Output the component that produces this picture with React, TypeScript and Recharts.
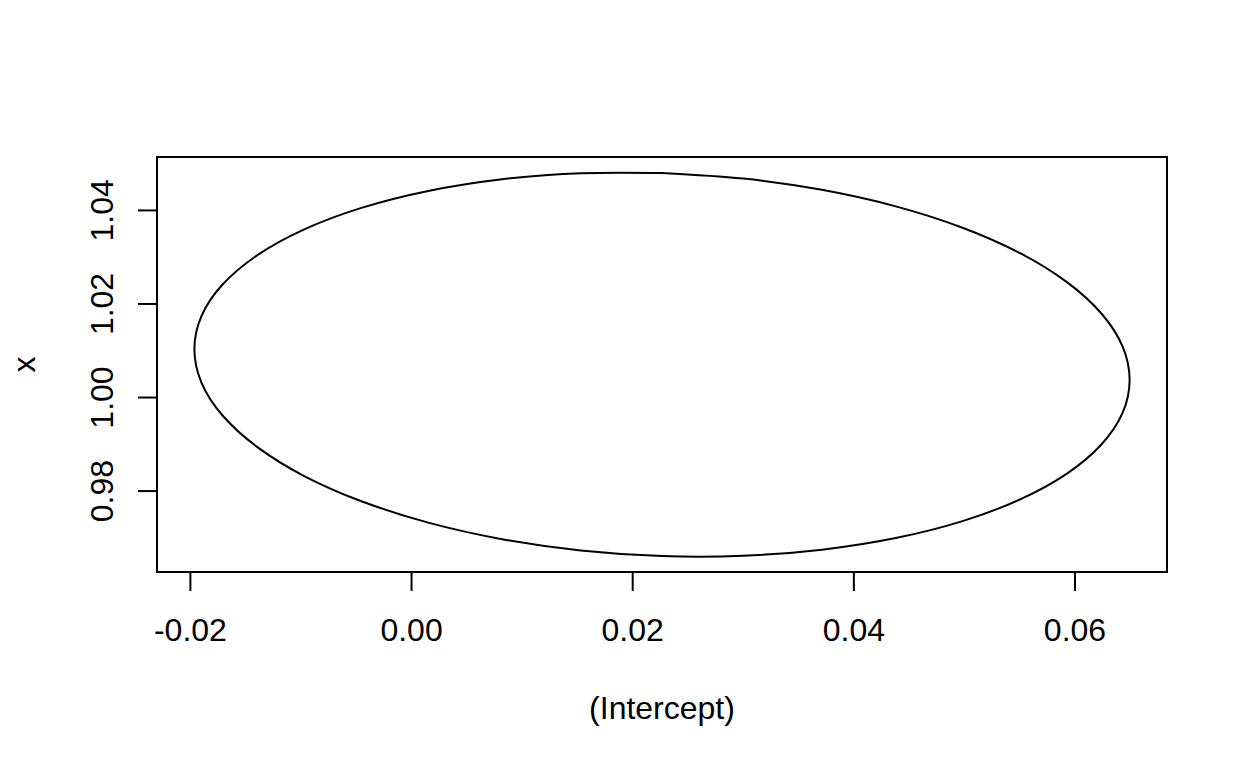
import { LineChart, Line, XAxis, YAxis, ReferenceArea } from 'recharts';

// points, going round from the top
const ellipseX = [
  0.02265, 0.01531, 0.00819, 0.00151, -0.00453, -0.00975, -0.01397, -0.01709, -0.019,
  -0.01964, -0.019, -0.01709, -0.01397, -0.00975, -0.00453, 0.00151, 0.00819, 0.01531,
  0.02265, 0.02999, 0.03711, 0.04379, 0.04983, 0.05504, 0.05927, 0.06239, 0.0643,
  0.06494, 0.0643, 0.06239, 0.05927, 0.05504, 0.04983, 0.04379, 0.03711, 0.02999,
];
const ellipseY = [
  1.048, 1.04795, 1.04666, 1.04416, 1.04054, 1.0359, 1.03039, 1.02416, 1.01742,
  1.01036, 1.0032, 0.99616, 0.98945, 0.98327, 0.97782, 0.97326, 0.96972, 0.96732,
  0.96612, 0.96617, 0.96747, 0.96996, 0.97358, 0.97822, 0.98374, 0.98996, 0.9967,
  1.00376, 1.01092, 1.01796, 1.02467, 1.03085, 1.0363, 1.04087, 1.0444, 1.0468,
];

const xTicks = [-0.02, 0, 0.02, 0.04, 0.06];
const yTicks = [0.98, 1.0, 1.02, 1.04];
const xDomain: [number, number] = [-0.02302, 0.06832];
const yDomain: [number, number] = [0.9627, 1.05142];

const xLabel = '(Intercept)';
const yLabel = 'x';

const FONT = '"Liberation Sans", Arial, Helvetica, sans-serif';

const points = ellipseX.map((x, i) => ({ x, y: ellipseY[i] }));
// close the curve
points.push({ ...points[0] });

const YTick = (props: any) => {
  const { x, y, payload } = props;
  return (
    <text
      x={x}
      y={y}
      transform={`rotate(-90 ${x} ${y})`}
      textAnchor="middle"
      fontSize={32}
      fontFamily={FONT}
      fill="#000"
    >
      {payload.value.toFixed(2)}
    </text>
  );
};

export default function App() {
  return (
    <div style={{ position: 'absolute', left: 0, top: 0, background: '#fff' }}>
      <LineChart
        width={1248}
        height={768}
        data={points}
        margin={{ top: 157, right: 81, bottom: 0, left: 0 }}
      >
        <XAxis
          dataKey="x"
          type="number"
          domain={xDomain}
          allowDataOverflow
          ticks={xTicks}
          interval={0}
          height={196}
          axisLine={false}
          tickSize={19}
          tickMargin={27}
          tickLine={{ stroke: '#000', strokeWidth: 2 }}
          tick={{ fontSize: 32, fontFamily: FONT, fill: '#000' }}
          tickFormatter={(v: number) => v.toFixed(2)}
          label={{
            content: (p: any) => (
              <text
                x={p.viewBox.x + p.viewBox.width / 2}
                y={p.viewBox.y + 147}
                textAnchor="middle"
                fontSize={32}
                fontFamily={FONT}
                fill="#000"
              >
                {xLabel}
              </text>
            ),
          }}
        />
        <YAxis
          dataKey="y"
          type="number"
          domain={yDomain}
          allowDataOverflow
          ticks={yTicks}
          interval={0}
          width={157}
          axisLine={false}
          tickSize={19}
          tickMargin={25}
          tickLine={{ stroke: '#000', strokeWidth: 2 }}
          tick={<YTick />}
          label={{
            content: (p: any) => {
              const cx = p.viewBox.x + 35;
              const cy = p.viewBox.y + p.viewBox.height / 2;
              return (
                <text
                  x={cx}
                  y={cy}
                  transform={`rotate(-90 ${cx} ${cy})`}
                  textAnchor="middle"
                  fontSize={32}
                  fontFamily={FONT}
                  fill="#000"
                >
                  {yLabel}
                </text>
              );
            },
          }}
        />
        <ReferenceArea
          x1={xDomain[0]}
          x2={xDomain[1]}
          y1={yDomain[0]}
          y2={yDomain[1]}
          fill="none"
          stroke="#000"
          strokeWidth={2}
          ifOverflow="visible"
        />
        <Line
          dataKey="y"
          type="natural"
          stroke="#000"
          strokeWidth={2}
          dot={false}
          activeDot={false}
          isAnimationActive={false}
        />
      </LineChart>
    </div>
  );
}
